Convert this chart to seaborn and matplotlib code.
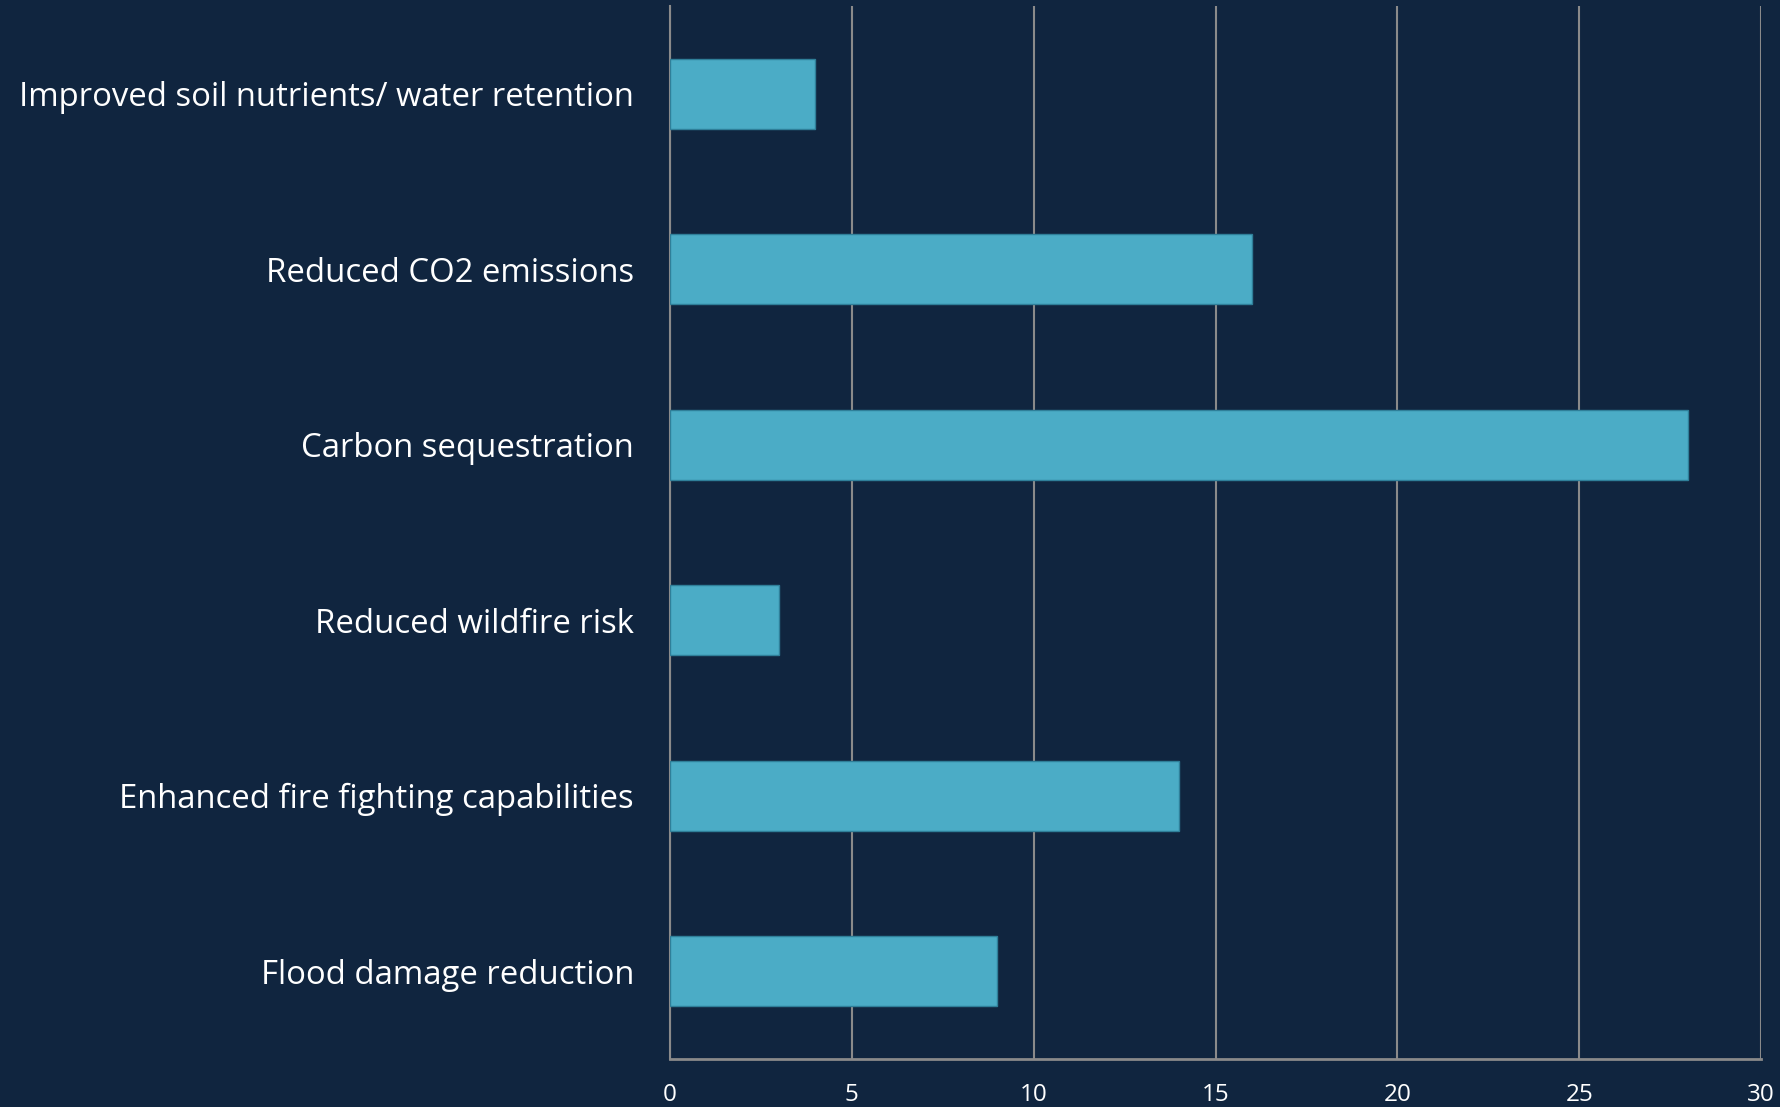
import pandas as pd
import matplotlib.pyplot as plt
import seaborn as sns

# categories and values, top to bottom
categories = [
    "Improved soil nutrients/ water retention",
    "Reduced CO2 emissions",
    "Carbon sequestration",
    "Reduced wildfire risk",
    "Enhanced fire fighting capabilities",
    "Flood damage reduction",
]
values = [4, 16, 28, 3, 14, 9]
x_ticks = [0, 5, 10, 15, 20, 25, 30]

df = pd.DataFrame({"category": categories, "value": values})

bg = "#10253f"
bar_color = "#4bacc6"
grid_color = "#8a8a8a"

sns.set_theme(style="white")
plt.rcParams['font.family'] = ['Open Sans', 'DejaVu Sans']

fig = plt.figure(figsize=(17.81, 11.07), dpi=100, facecolor=bg)
ax = fig.add_axes([0.3762, 0.0434, 0.6126, 0.9512])
ax.set_facecolor(bg)

sns.barplot(data=df, x="value", y="category", orient="h", color=bar_color,
            saturation=1, width=0.4, edgecolor="#2f7f99", linewidth=1, ax=ax, zorder=3)

ax.set_xlim(0, 30)
ax.set_ylim(5.5, -0.5)
ax.set_xticks(x_ticks)
ax.set_xticklabels([str(t) for t in x_ticks])
ax.xaxis.grid(True, color=grid_color, linewidth=1.5, zorder=0)
ax.set_axisbelow(True)

ax.set_xlabel("")
ax.set_ylabel("")
for s in ["top", "right"]:
    ax.spines[s].set_visible(False)
ax.spines["left"].set_color(grid_color)
ax.spines["bottom"].set_color(grid_color)
ax.spines["left"].set_linewidth(1.5)
ax.spines["bottom"].set_linewidth(2)

ax.tick_params(axis="y", length=0, pad=26, labelsize=23.7, labelcolor="white")
ax.tick_params(axis="x", length=0, pad=17, labelsize=17.5, labelcolor="white")

fig.savefig("out.png", dpi=100, facecolor=bg)
